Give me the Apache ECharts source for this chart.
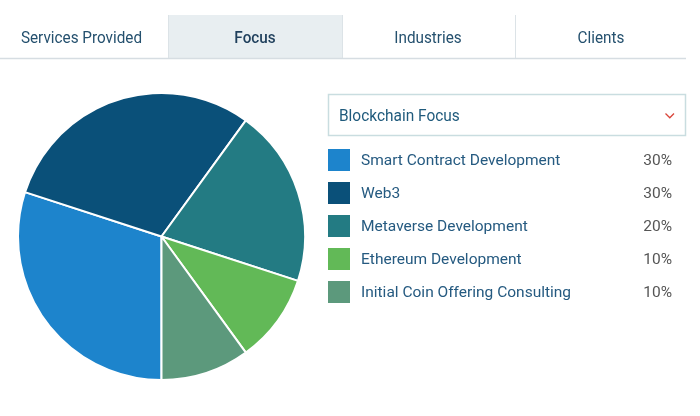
<!DOCTYPE html>
<html>
<head>
<meta charset="utf-8">
<script src="https://cdn.jsdelivr.net/npm/echarts@6/dist/echarts.min.js"></script>
<style>
html,body{margin:0;padding:0;background:#fff;}
#chart{width:700px;height:416px;}
</style>
</head>
<body>
<div id="chart"></div>
<script>
const categories = ["Smart Contract Development","Web3","Metaverse Development","Ethereum Development","Initial Coin Offering Consulting"];
const values = [30, 30, 20, 10, 10];
const colors = ["#1d84cc","#0a5079","#237b83","#62b957","#5c997c"];
const tabs = ["Services Provided","Focus","Industries","Clients"];
const dropdownLabel = "Blockchain Focus";

const chart = echarts.init(document.getElementById('chart'), null, {renderer:'canvas'});
const FONT = 'Roboto, "Noto Sans", sans-serif';
const tabCenters = [81.5,255,428,601];
const graphics = [];
graphics.push({type:'rect', shape:{x:168,y:15,width:174,height:44}, style:{fill:'#e8eef1'}, z:0});
[168,342,515].forEach(x=>graphics.push({type:'line', shape:{x1:x+0.5,y1:15,x2:x+0.5,y2:58}, style:{stroke:'#dce3e7',lineWidth:1}}));
graphics.push({type:'line', shape:{x1:0,y1:58.5,x2:686,y2:58.5}, style:{stroke:'#d6dde2',lineWidth:1.5}});
tabs.forEach((t,i)=>{
  graphics.push({type:'text', x:tabCenters[i], y:38.5, scaleX:0.955, style:{text:t, font:(i===1?'500 ':'400 ')+'16px '+FONT, fill:i===1?'#1f3f5c':'#24506e', textAlign:'center', textVerticalAlign:'middle'}});
});
graphics.push({type:'rect', shape:{x:328.5,y:94.5,width:357,height:41}, style:{fill:'#fff',stroke:'#c9dde0',lineWidth:1.5}});
graphics.push({type:'text', x:339, y:117, scaleX:0.965, style:{text:dropdownLabel, font:'400 16px '+FONT, fill:'#1f5a7c', textVerticalAlign:'middle'}});
graphics.push({type:'polyline', shape:{points:[[665.5,113.5],[669.8,117.8],[674,113.5]]}, style:{stroke:'#d9453a',lineWidth:1.3,fill:null}});

const pieData = categories.map((c,i)=>({name:c, value:values[i], itemStyle:{color:colors[i]}}));
const total = values.reduce((a,b)=>a+b,0);

chart.setOption({
  animation:false,
  backgroundColor:'#fff',
  graphic:graphics,
  legend:{
    orient:'vertical', left:328, top:148,
    icon:'rect', itemWidth:22, itemHeight:22, itemGap:9,
    selectedMode:false,
    padding:0,
    itemStyle:{borderWidth:0},
    data:categories,
    formatter:function(name){
      const i = categories.indexOf(name);
      return '{n|'+name+'}{p|'+Math.round(values[i]/total*100)+'%}';
    },
    textStyle:{
      lineHeight:22,
      padding:[2,0,0,6],
      rich:{
        n:{width:251, fontSize:15.5, lineHeight:22, fontFamily:FONT, color:'#255a80'},
        p:{width:60, align:'right', fontSize:15.5, lineHeight:22, fontFamily:FONT, color:'#555'}
      }
    }
  },
  series:[{
    type:'pie',
    center:[161.5,236.5],
    radius:['0%',143.5],
    startAngle:-90,
    clockwise:true,
    label:{show:false},
    labelLine:{show:false},
    emphasis:{disabled:true},
    itemStyle:{borderColor:'#fff',borderWidth:2},
    data:pieData
  }]
});
</script>
</body>
</html>
